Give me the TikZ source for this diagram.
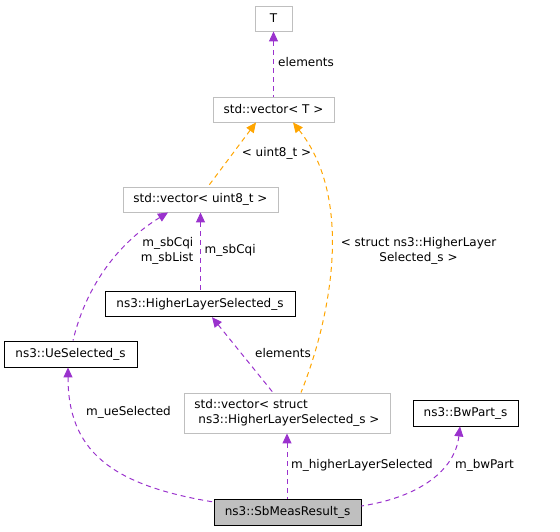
\documentclass[tikz,border=0pt]{standalone}
\usepackage{fontspec}
\setmainfont{DejaVu Sans}
\usetikzlibrary{arrows.meta}
\definecolor{edgepurple}{HTML}{9A32CD}
\definecolor{edgeorange}{HTML}{FFA500}
\definecolor{boxgray}{HTML}{BFBFBF}
\tikzset{
  cls/.style={draw=black, line width=0.9pt, inner sep=0pt, font=\fontsize{12}{15}\selectfont},
  ext/.style={draw=boxgray, line width=0.9pt, inner sep=0pt, font=\fontsize{12}{15}\selectfont},
  focus/.style={cls, fill=boxgray},
  uses/.style={draw=edgepurple, line width=1pt, dash pattern=on 5pt off 4pt, {Triangle[length=10pt,width=9pt,fill=edgepurple]}-},
  inst/.style={draw=edgeorange, line width=1pt, dash pattern=on 5pt off 4pt, {Triangle[length=10pt,width=9pt,fill=edgeorange]}-},
  lbl/.style={inner sep=0pt, font=\fontsize{12}{15}\selectfont}
}
\begin{document}
\begin{tikzpicture}[x=1pt,y=-1pt]
\useasboundingbox (0,0) rectangle (560,531);
% nodes
\node[ext, minimum width=37pt, minimum height=25pt] (T) at (273.5,18.5) {T};
\node[ext, minimum width=121pt, minimum height=25pt] (vecT) at (273.5,109.5) {std::vector< T >};
\node[ext, minimum width=155pt, minimum height=25pt] (vecU) at (200.5,199.5) {std::vector< uint8\_t >};
\node[cls, minimum width=190pt, minimum height=25pt] (HLS) at (200,304.2) {ns3::HigherLayerSelected\_s};
\node[cls, minimum width=133pt, minimum height=26pt] (Ue) at (70.5,354) {ns3::UeSelected\_s};
\node[ext, minimum width=206pt, minimum height=40pt, align=left] (vecS) at (287,413) {std::vector< struct\\\hspace*{4pt}ns3::HigherLayerSelected\_s >};
\node[cls, minimum width=105pt, minimum height=26pt] (Bw) at (465.5,413) {ns3::BwPart\_s};
\node[focus, minimum width=147pt, minimum height=26pt] (Sb) at (287.5,512) {ns3::SbMeasResult\_s};
% edges
\draw[uses] (T.south) -- (T.south |- vecT.north);
\draw[inst] ([xshift=-17.5pt]vecT.south) -- ([xshift=7.5pt]vecU.north);
\draw[inst] ([xshift=19.5pt]vecT.south) .. controls (355,200) and (330,320) .. ([xshift=14pt]vecS.north);
\draw[uses] ([xshift=-32.5pt]vecU.south) .. controls (115,245) and (85,290) .. ([xshift=2.5pt]Ue.north);
\draw[uses] (vecU.south) -- (vecU.south |- HLS.north);
\draw[uses] ([xshift=12pt]HLS.south) -- ([xshift=-14pt]vecS.north);
\draw[uses] ([xshift=-2.5pt]Ue.south) .. controls (68,450) and (110,485) .. ([yshift=10pt]Sb.west);
\draw[uses] (vecS.south) -- (vecS.south |- Sb.north);
\draw[uses] ([xshift=-5.5pt]Bw.south) .. controls (455,470) and (420,497) .. ([yshift=6pt]Sb.east);
% labels
\node[lbl, anchor=west] (l1) at (278,62) {elements};
\node[lbl] (l2) at (276.5,153) {< uint8\_t >};
\node[lbl, align=center] (l3) at (418.5,250.5) {< struct ns3::HigherLayer\\Selected\_s >};
\node[lbl, align=right, anchor=east] (l4) at (193.5,250.5) {m\_sbCqi\\m\_sbList};
\node[lbl, anchor=west] (l5) at (204.5,250.5) {m\_sbCqi};
\node[lbl] (l6) at (283,353) {elements};
\node[lbl] (l7) at (128.5,412.5) {m\_ueSelected};
\node[lbl] (l8) at (362,465) {m\_higherLayerSelected};
\node[lbl] (l9) at (484.5,465) {m\_bwPart};
\end{tikzpicture}
\end{document}
